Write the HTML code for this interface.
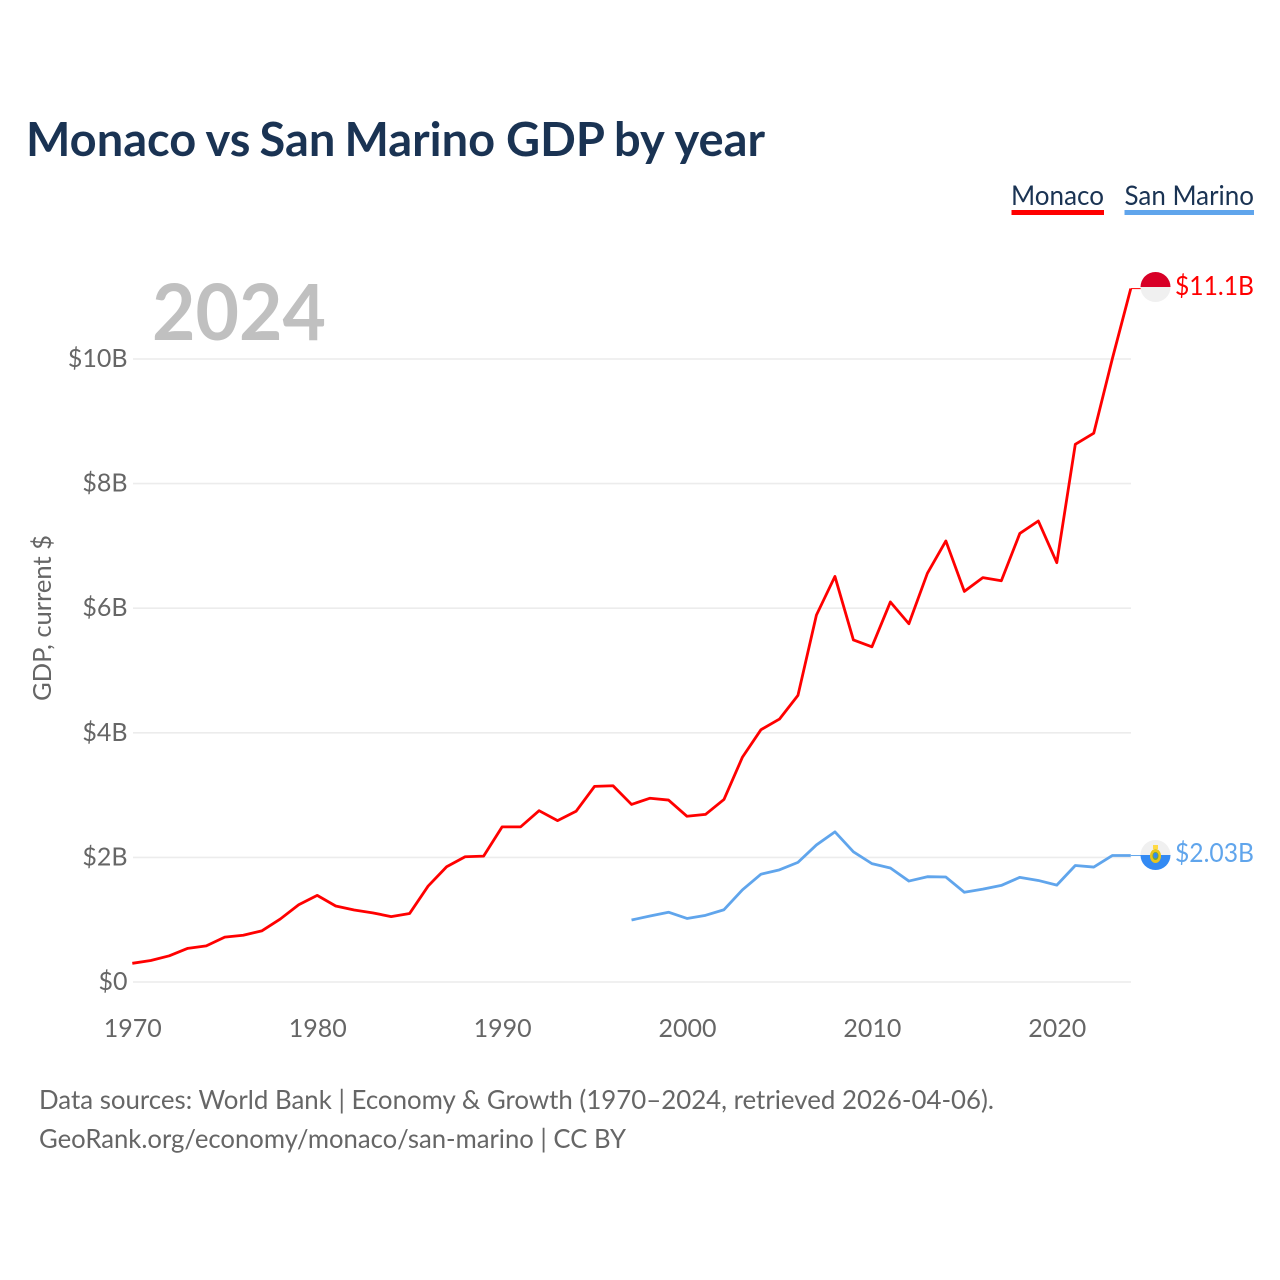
<!DOCTYPE html>
<html lang="en">
<head>
<meta charset="utf-8">
<title>Monaco vs San Marino GDP by year</title>
<style>
html,body{margin:0;padding:0;background:#fff}
svg{display:block}
text{font-family:"Lato","Liberation Sans",sans-serif}
</style>
</head>
<body>
<svg id="chart" width="1280" height="1280" viewBox="0 0 1280 1280" xmlns="http://www.w3.org/2000/svg">
<defs>
<clipPath id="clip-mc"><circle cx="1155.5" cy="287" r="15"/></clipPath>
<clipPath id="clip-sm"><circle cx="1155.5" cy="855" r="15"/></clipPath>
</defs>
<rect x="0" y="0" width="1280" height="1280" fill="#fff"/>
<text y="156" font-size="47" font-weight="700" fill="#1a3353"><tspan x="26">Monaco</tspan> <tspan x="205.5">vs</tspan> <tspan x="259.5">San</tspan> <tspan x="344.5">Marino</tspan> <tspan x="506">GDP</tspan> <tspan x="614">by</tspan> <tspan x="674.5">year</tspan></text>

<g>
<text x="1011" y="205" font-size="27" fill="#1a3353" textLength="93" lengthAdjust="spacingAndGlyphs">Monaco</text>
<rect x="1011.5" y="210" width="92.5" height="5" fill="#ff0000"/>
</g>
<g>
<text x="1124.5" y="205" font-size="27" fill="#1a3353" textLength="129.5" lengthAdjust="spacingAndGlyphs">San Marino</text>
<rect x="1124.5" y="210" width="129.5" height="5" fill="#60a5ec"/>
</g>

<g id="grid"></g>
<g id="yticks"></g>
<g id="xticks"></g>

<text x="152" y="340" font-size="78" font-weight="700" fill="#c0c0c0" textLength="174" lengthAdjust="spacingAndGlyphs">2024</text>
<text transform="translate(51,618) rotate(-90)" text-anchor="middle" font-size="25" fill="#666666" textLength="166" lengthAdjust="spacingAndGlyphs">GDP, current $</text>

<g id="series"></g>

<g clip-path="url(#clip-mc)">
<rect x="1140" y="272" width="31" height="15" fill="#d80027"/>
<rect x="1140" y="287" width="31" height="15" fill="#f0f0f0"/>
</g>
<g clip-path="url(#clip-sm)">
<rect x="1140" y="840" width="31" height="15" fill="#f0f0f0"/>
<rect x="1140" y="855" width="31" height="15" fill="#338af3"/>
<ellipse cx="1155.5" cy="856" rx="5.5" ry="7" fill="#e8c51e"/>
<ellipse cx="1155.5" cy="856" rx="3" ry="4" fill="#6da544"/>
<ellipse cx="1155.5" cy="855.5" rx="2.2" ry="2.8" fill="#338af3"/>
<rect x="1153" y="845" width="5" height="4" fill="#ffda44"/>
</g>
<text x="1175" y="295" font-size="26" fill="#ff0000" textLength="79" lengthAdjust="spacingAndGlyphs">$11.1B</text>
<text x="1175" y="862" font-size="26" fill="#60a5ec" textLength="79" lengthAdjust="spacingAndGlyphs">$2.03B</text>

<text x="39" y="1109" font-size="26" fill="#666666" textLength="955" lengthAdjust="spacingAndGlyphs">Data sources: World Bank | Economy &amp; Growth (1970–2024, retrieved 2026-04-06).</text>
<text x="39" y="1148" font-size="26" fill="#666666" textLength="587" lengthAdjust="spacingAndGlyphs">GeoRank.org/economy/monaco/san-marino | CC BY</text>
</svg>
<script>
const yTickValues = [0, 2, 4, 6, 8, 10];
const yTickLabels = ["$0", "$2B", "$4B", "$6B", "$8B", "$10B"];
const xTickValues = [1970, 1980, 1990, 2000, 2010, 2020];
const monacoStartYear = 1970;
const monacoGdp = [0.30,0.345,0.42,0.54,0.58,0.72,0.75,0.82,1.01,1.24,1.39,1.22,1.155,1.11,1.05,1.10,1.54,1.85,2.01,2.02,2.49,2.49,2.75,2.59,2.74,3.14,3.15,2.85,2.95,2.92,2.66,2.69,2.93,3.61,4.05,4.22,4.60,5.89,6.51,5.49,5.38,6.10,5.75,6.56,7.08,6.27,6.49,6.44,7.20,7.40,6.73,8.63,8.81,10.0,11.13];
const sanMarinoStartYear = 1997;
const sanMarinoGdp = [0.995,1.06,1.12,1.02,1.07,1.16,1.48,1.73,1.80,1.92,2.20,2.41,2.09,1.90,1.83,1.62,1.69,1.685,1.44,1.49,1.55,1.68,1.63,1.555,1.87,1.845,2.03,2.03];

const NS = "http://www.w3.org/2000/svg";
function xScale(year) { return 132.3 + (year - 1970) * 18.49; }
function yScale(v) { return 982 - v * 62.3; }
function make(tag, attrs, parent) {
  const el = document.createElementNS(NS, tag);
  for (const k in attrs) el.setAttribute(k, attrs[k]);
  parent.appendChild(el);
  return el;
}
const grid = document.getElementById("grid");
const yticks = document.getElementById("yticks");
const xticks = document.getElementById("xticks");
const series = document.getElementById("series");

yTickValues.forEach(function (v, i) {
  const line = make("line", {x1: 133, x2: 1131, y1: yScale(v), y2: yScale(v), stroke: "#ececec", "stroke-width": 1.6}, grid);
  
  
  const label = make("text", {x: 127.5, y: yScale(v) + 8, "text-anchor": "end", "font-size": 25, fill: "#666666"}, yticks);
  label.textContent = yTickLabels[i];
  
  
});
xTickValues.forEach(function (year) {
  const label = make("text", {x: xScale(year) + 0.5, y: 1037, "text-anchor": "middle", "font-size": 25, fill: "#666666"}, xticks);
  label.textContent = String(year);
  
  
});
function drawSeries(values, startYear, color, name) {
  const pts = values.map(function (v, i) { return xScale(startYear + i).toFixed(2) + "," + yScale(v).toFixed(2); });
  const line = make("polyline", {points: pts.join(" "), fill: "none", stroke: color, "stroke-width": 2.8, "stroke-linejoin": "round"}, series);
  
  
  const lastY = yScale(values[values.length - 1]);
  const lastX = xScale(startYear + values.length - 1);
  const conn = make("line", {x1: lastX, x2: 1141, y1: lastY, y2: lastY, stroke: color, "stroke-width": 1}, series);
  
  
}
drawSeries(monacoGdp, monacoStartYear, "#ff0000", "line-monaco");
drawSeries(sanMarinoGdp, sanMarinoStartYear, "#60a5ec", "line-san-marino");
</script>
</body>
</html>
